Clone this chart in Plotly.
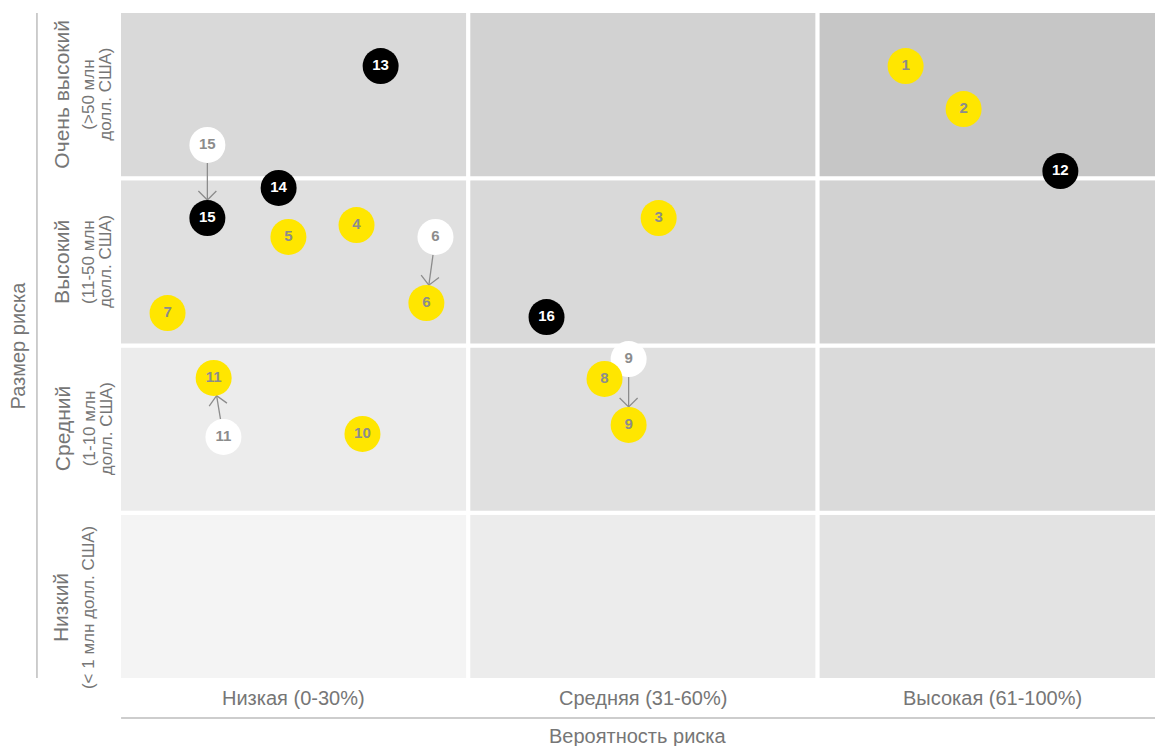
import math
import plotly.graph_objects as go

# ---- data ----
prob_labels = ["Низкая (0-30%)", "Средняя (31-60%)", "Высокая (61-100%)"]
size_main = ["Низкий", "Средний", "Высокий", "Очень высокий"]
size_sub = [["(< 1 млн долл. США)"], ["(1-10 млн", "долл. США)"],
            ["(11-50 млн", "долл. США)"], ["(>50 млн", "долл. США)"]]
cell_colors = [
    ["#f4f4f4", "#ececec", "#e3e3e3"],
    ["#ececec", "#e0e0e0", "#dadada"],
    ["#e0e0e0", "#d9d9d9", "#d2d2d2"],
    ["#d9d9d9", "#d2d2d2", "#c6c6c6"],
]

# current risk positions (x: probability, y: size)
yellow_ids = ["1", "2", "3", "4", "5", "6", "7", "8", "9", "10", "11"]
yellow_x = [2.252, 2.418, 1.545, 0.680, 0.485, 0.880, 0.139, 1.390, 1.459, 0.697, 0.271]
yellow_y = [3.671, 3.414, 2.762, 2.720, 2.649, 2.254, 2.194, 1.800, 1.525, 1.471, 1.806]

black_ids = ["12", "13", "14", "15", "16"]
black_x = [2.695, 0.749, 0.457, 0.253, 1.224]
black_y = [3.043, 3.671, 2.942, 2.762, 2.170]

# previous positions
prev_ids = ["15", "6", "9", "11"]
prev_x = [0.253, 0.906, 1.459, 0.299]
prev_y = [3.199, 2.649, 1.919, 1.453]

# ---- layout geometry ----
W, H = 1155, 746
ML, MR, MT, MB = 119, 0, 11, 66
UNIT_X = 349.3
XR = [0, (W - ML - MR) / UNIT_X]
YR = [0, 4]
sx = UNIT_X
sy = (H - MT - MB) / (YR[1] - YR[0])
R = 18  # marker radius in px

fig = go.Figure()

shapes = []
for r in range(4):
    for c in range(3):
        shapes.append(dict(type="rect", xref="x", yref="y", x0=c, x1=c + 1, y0=r, y1=r + 1,
                           fillcolor=cell_colors[r][c], line=dict(color="white", width=4), layer="below"))
shapes.append(dict(type="line", xref="paper", yref="paper", x0=0.002, x1=1, y0=-0.0568, y1=-0.0568,
                   line=dict(color="#bdbdbd", width=1.5)))
shapes.append(dict(type="line", xref="paper", yref="paper", x0=-0.0792, x1=-0.0792, y0=0.003, y1=0.997,
                   line=dict(color="#bdbdbd", width=1.5)))

# arrows (computed from data positions)
cur = {}
for i, x, y in zip(yellow_ids, yellow_x, yellow_y):
    cur[i] = (x, y)
for i, x, y in zip(black_ids, black_x, black_y):
    cur[i] = (x, y)

ax_, ay_ = [], []
for i, px, py in zip(prev_ids, prev_x, prev_y):
    tx, ty = cur[i]
    SX, SY = px * sx, py * sy
    EX, EY = tx * sx, ty * sy
    dx, dy = EX - SX, EY - SY
    L = math.hypot(dx, dy)
    ux, uy = dx / L, dy / L
    nx, ny = -uy, ux
    s0 = (SX + ux * R, SY + uy * R)
    tip = (EX - ux * R, EY - uy * R)
    back = 9
    a1 = (tip[0] - ux * back + nx * back, tip[1] - uy * back + ny * back)
    a2 = (tip[0] - ux * back - nx * back, tip[1] - uy * back - ny * back)
    for p in [s0, tip, None, a1, tip, a2, None]:
        if p is None:
            ax_.append(None); ay_.append(None)
        else:
            ax_.append(p[0] / sx); ay_.append(p[1] / sy)

fig.add_trace(go.Scatter(x=ax_, y=ay_, mode="lines", line=dict(color="#8c8c8c", width=1.3),
                         hoverinfo="skip", showlegend=False))

MS = 2 * R
numfont = "Arial"
fig.add_trace(go.Scatter(x=prev_x, y=prev_y, text=prev_ids, mode="markers+text",
                         marker=dict(size=MS, color="white", line=dict(width=0)),
                         textfont=dict(family=numfont, size=15, color="#8c8c8c", weight="bold"),
                         textposition="middle center", hoverinfo="skip", showlegend=False))
fig.add_trace(go.Scatter(x=yellow_x, y=yellow_y, text=yellow_ids, mode="markers+text",
                         marker=dict(size=MS, color="#ffe600", line=dict(width=0)),
                         textfont=dict(family=numfont, size=15, color="#8c8c8c", weight="bold"),
                         textposition="middle center", hoverinfo="skip", showlegend=False))
fig.add_trace(go.Scatter(x=black_x, y=black_y, text=black_ids, mode="markers+text",
                         marker=dict(size=MS, color="black", line=dict(width=0)),
                         textfont=dict(family=numfont, size=15, color="white", weight="bold"),
                         textposition="middle center", hoverinfo="skip", showlegend=False))

annotations = []
txtc = "#767676"
lf = "Liberation Sans"
for c, lab in enumerate(prob_labels):
    annotations.append(dict(x=c + 0.5, y=0, xref="x", yref="paper", yshift=-18, yanchor="middle",
                            text=lab, showarrow=False, font=dict(family=lf, size=20, color=txtc)))
annotations.append(dict(x=0.5, y=0, xref="paper", yref="paper", yshift=-56, yanchor="middle",
                        text="Вероятность риска", showarrow=False,
                        font=dict(family=lf, size=20, color=txtc)))
for r in range(4):
    yc = r + 0.5 if r > 0 else 0.43
    annotations.append(dict(x=0, y=yc, xref="paper", yref="y", xshift=-57 if r > 0 else -59,
                            xanchor="center", yanchor="middle", textangle=-90,
                            text=size_main[r], showarrow=False,
                            font=dict(family=lf, size=21, color=txtc)))
    lines = size_sub[r]
    if len(lines) == 1:
        shifts = [-31]
    else:
        shifts = [-30, -13]
    for ln, xs in zip(lines, shifts):
        annotations.append(dict(x=0, y=yc, xref="paper", yref="y", xshift=xs,
                                xanchor="center", yanchor="middle", textangle=-90,
                                text=ln, showarrow=False,
                                font=dict(family=lf, size=17, color=txtc)))
annotations.append(dict(x=0, y=0.5, xref="paper", yref="paper", xshift=-102, xanchor="center",
                        yanchor="middle", textangle=-90, text="Размер риска", showarrow=False,
                        font=dict(family=lf, size=20, color=txtc)))

fig.update_layout(
    width=W, height=H,
    margin=dict(l=ML, r=MR, t=MT, b=MB),
    plot_bgcolor="white", paper_bgcolor="white",
    xaxis=dict(range=XR, visible=False, fixedrange=True),
    yaxis=dict(range=YR, visible=False, fixedrange=True),
    shapes=shapes, annotations=annotations,
)

fig.write_html("out.html", config={"displayModeBar": False},
               post_script="document.body.style.margin='0';document.body.style.overflow='hidden';")
